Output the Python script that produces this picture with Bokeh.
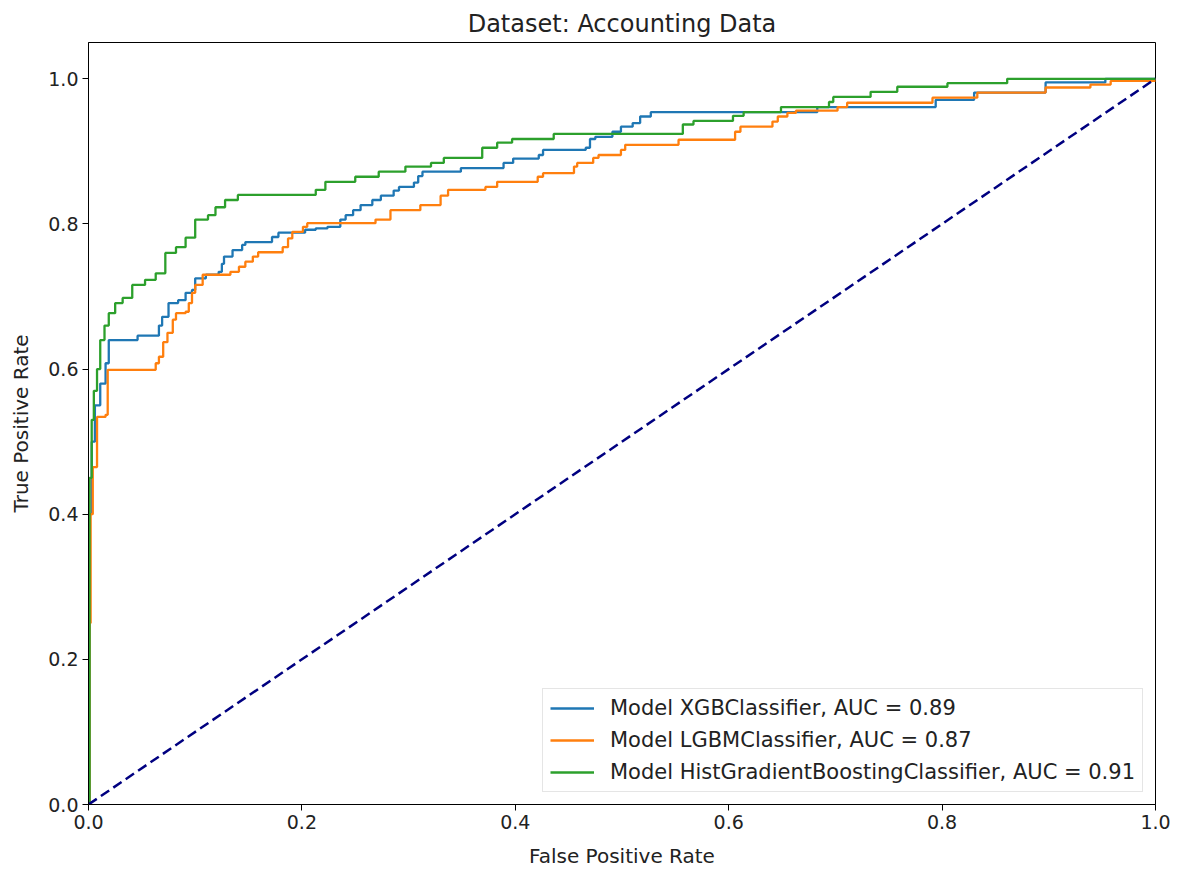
from bokeh.plotting import figure
from bokeh.models import FixedTicker, PrintfTickFormatter, Legend, LegendItem, Range1d
from bokeh.embed import file_html
from bokeh.resources import INLINE

# ROC step corners (fpr where the jump happens, new tpr)
xgb_fpr = [0, 0.001, 0.003, 0.006, 0.011, 0.016, 0.019, 0.046, 0.066, 0.069, 0.075, 0.084, 0.091, 0.097,
           0.10, 0.11, 0.122, 0.125, 0.127, 0.135, 0.144, 0.147, 0.172, 0.178, 0.203, 0.213, 0.224, 0.236,
           0.241, 0.248, 0.255, 0.266, 0.274, 0.286, 0.291, 0.305, 0.309, 0.313, 0.349, 0.389, 0.398, 0.422,
           0.426, 0.466, 0.47, 0.475, 0.491, 0.499, 0.51, 0.517, 0.527, 0.683, 0.794, 0.830, 0.897, 0.953, 1.0]
xgb_tpr = [0, 0.40, 0.50, 0.55, 0.58, 0.608, 0.64, 0.646, 0.66, 0.672, 0.691, 0.695, 0.705, 0.709,
           0.725, 0.73, 0.734, 0.745, 0.755, 0.764, 0.771, 0.775, 0.782, 0.788, 0.792, 0.794, 0.796, 0.806,
           0.812, 0.819, 0.826, 0.833, 0.839, 0.846, 0.851, 0.857, 0.866, 0.872, 0.877, 0.884, 0.89, 0.895,
           0.902, 0.905, 0.917, 0.92, 0.927, 0.934, 0.939, 0.948, 0.954, 0.961, 0.971, 0.981, 0.995, 1.0, 1.0]

lgbm_fpr = [0, 0.001, 0.002, 0.004, 0.008, 0.016, 0.018, 0.063, 0.066, 0.07, 0.074, 0.079, 0.082, 0.091,
            0.094, 0.097, 0.10, 0.107, 0.133, 0.141, 0.147, 0.154, 0.159, 0.182, 0.187, 0.191, 0.201, 0.205,
            0.269, 0.283, 0.311, 0.33, 0.337, 0.372, 0.383, 0.421, 0.426, 0.455, 0.458, 0.473, 0.478, 0.499,
            0.503, 0.553, 0.606, 0.611, 0.641, 0.646, 0.655, 0.663, 0.702, 0.711, 0.791, 0.833, 0.897, 0.939,
            0.958, 1.0]
lgbm_tpr = [0, 0.25, 0.40, 0.465, 0.534, 0.537, 0.599, 0.608, 0.617, 0.637, 0.65, 0.668, 0.677, 0.679,
            0.691, 0.705, 0.716, 0.73, 0.734, 0.741, 0.748, 0.755, 0.761, 0.768, 0.78, 0.789, 0.796, 0.801,
            0.806, 0.819, 0.826, 0.839, 0.847, 0.851, 0.858, 0.865, 0.87, 0.879, 0.884, 0.891, 0.895, 0.902,
            0.909, 0.916, 0.927, 0.934, 0.941, 0.948, 0.953, 0.956, 0.961, 0.967, 0.974, 0.981, 0.988, 0.992,
            0.997, 1.0]

hgb_fpr = [0, 0.001, 0.003, 0.005, 0.008, 0.011, 0.015, 0.019, 0.025, 0.032, 0.041, 0.053, 0.063, 0.072,
           0.082, 0.091, 0.10, 0.112, 0.119, 0.128, 0.14, 0.213, 0.222, 0.25, 0.272, 0.297, 0.321, 0.333,
           0.369, 0.383, 0.397, 0.436, 0.557, 0.567, 0.604, 0.614, 0.649, 0.694, 0.698, 0.733, 0.758, 0.805,
           0.861, 1.0]
hgb_tpr = [0, 0.45, 0.53, 0.57, 0.60, 0.64, 0.66, 0.677, 0.691, 0.698, 0.716, 0.723, 0.732, 0.76,
           0.768, 0.781, 0.806, 0.812, 0.823, 0.833, 0.84, 0.847, 0.858, 0.865, 0.872, 0.879, 0.884, 0.891,
           0.905, 0.912, 0.917, 0.924, 0.937, 0.942, 0.949, 0.954, 0.961, 0.968, 0.975, 0.982, 0.989, 0.994,
           1.0, 1.0]

diag = [0, 1]
labels = ["Model XGBClassifier, AUC = 0.89",
          "Model LGBMClassifier, AUC = 0.87",
          "Model HistGradientBoostingClassifier, AUC = 0.91"]
ticks = [0, 0.2, 0.4, 0.6, 0.8, 1.0]

FONT = "DejaVu Sans"

p = figure(width=1177, height=872, output_backend="svg", toolbar_location=None,
           x_range=Range1d(0, 1), y_range=Range1d(0, 1.05),
           title="Dataset: Accounting Data",
           min_border_left=88, min_border_right=22, min_border_top=42, min_border_bottom=68)

p.title.align = "center"
p.title.text_font = FONT
p.title.text_font_size = "24px"
p.title.text_font_style = "normal"
p.title.text_color = "#222222"
p.title.standoff = 10

p.xgrid.visible = False
p.ygrid.visible = False
p.outline_line_color = "black"
p.outline_line_width = 1
p.background_fill_color = "white"
p.border_fill_color = "white"

for ax in (p.xaxis, p.yaxis):
    ax.ticker = FixedTicker(ticks=ticks)
    ax.formatter = PrintfTickFormatter(format="%.1f")
    ax.major_tick_out = 6
    ax.major_tick_in = 0
    ax.minor_tick_line_color = None
    ax.axis_line_color = "black"
    ax.major_tick_line_color = "black"
    ax.major_label_text_font = FONT
    ax.major_label_text_font_size = "19px"
    ax.major_label_text_color = "#222222"
    ax.axis_label_text_font = FONT
    ax.axis_label_text_font_size = "20px"
    ax.axis_label_text_font_style = "normal"
    ax.axis_label_text_color = "#222222"
    ax.major_label_standoff = 4

p.xaxis.axis_label_standoff = 12
p.yaxis.axis_label_standoff = 12
p.xaxis.axis_label = "False Positive Rate"
p.yaxis.axis_label = "True Positive Rate"

r1 = p.step(xgb_fpr, xgb_tpr, mode="after", line_color="#1f77b4", line_width=2.3)
r2 = p.step(lgbm_fpr, lgbm_tpr, mode="after", line_color="#ff7f0e", line_width=2.3)
r3 = p.step(hgb_fpr, hgb_tpr, mode="after", line_color="#2ca02c", line_width=2.3)
p.line(diag, diag, line_color="navy", line_width=2.5, line_dash="10 5")

legend = Legend(items=[LegendItem(label=labels[0], renderers=[r1]),
                       LegendItem(label=labels[1], renderers=[r2]),
                       LegendItem(label=labels[2], renderers=[r3])],
                location="bottom_right")
legend.label_text_font = FONT
legend.label_text_font_size = "21px"
legend.label_text_color = "#222222"
legend.glyph_width = 44
legend.glyph_height = 24
legend.label_height = 24
legend.label_standoff = 16
legend.spacing = 8
legend.padding = 7
legend.margin = 12
legend.border_line_color = "#cccccc"
legend.border_line_width = 1
legend.background_fill_alpha = 0.8
p.add_layout(legend, "center")

open("out.html", "w").write(file_html(p, INLINE))
